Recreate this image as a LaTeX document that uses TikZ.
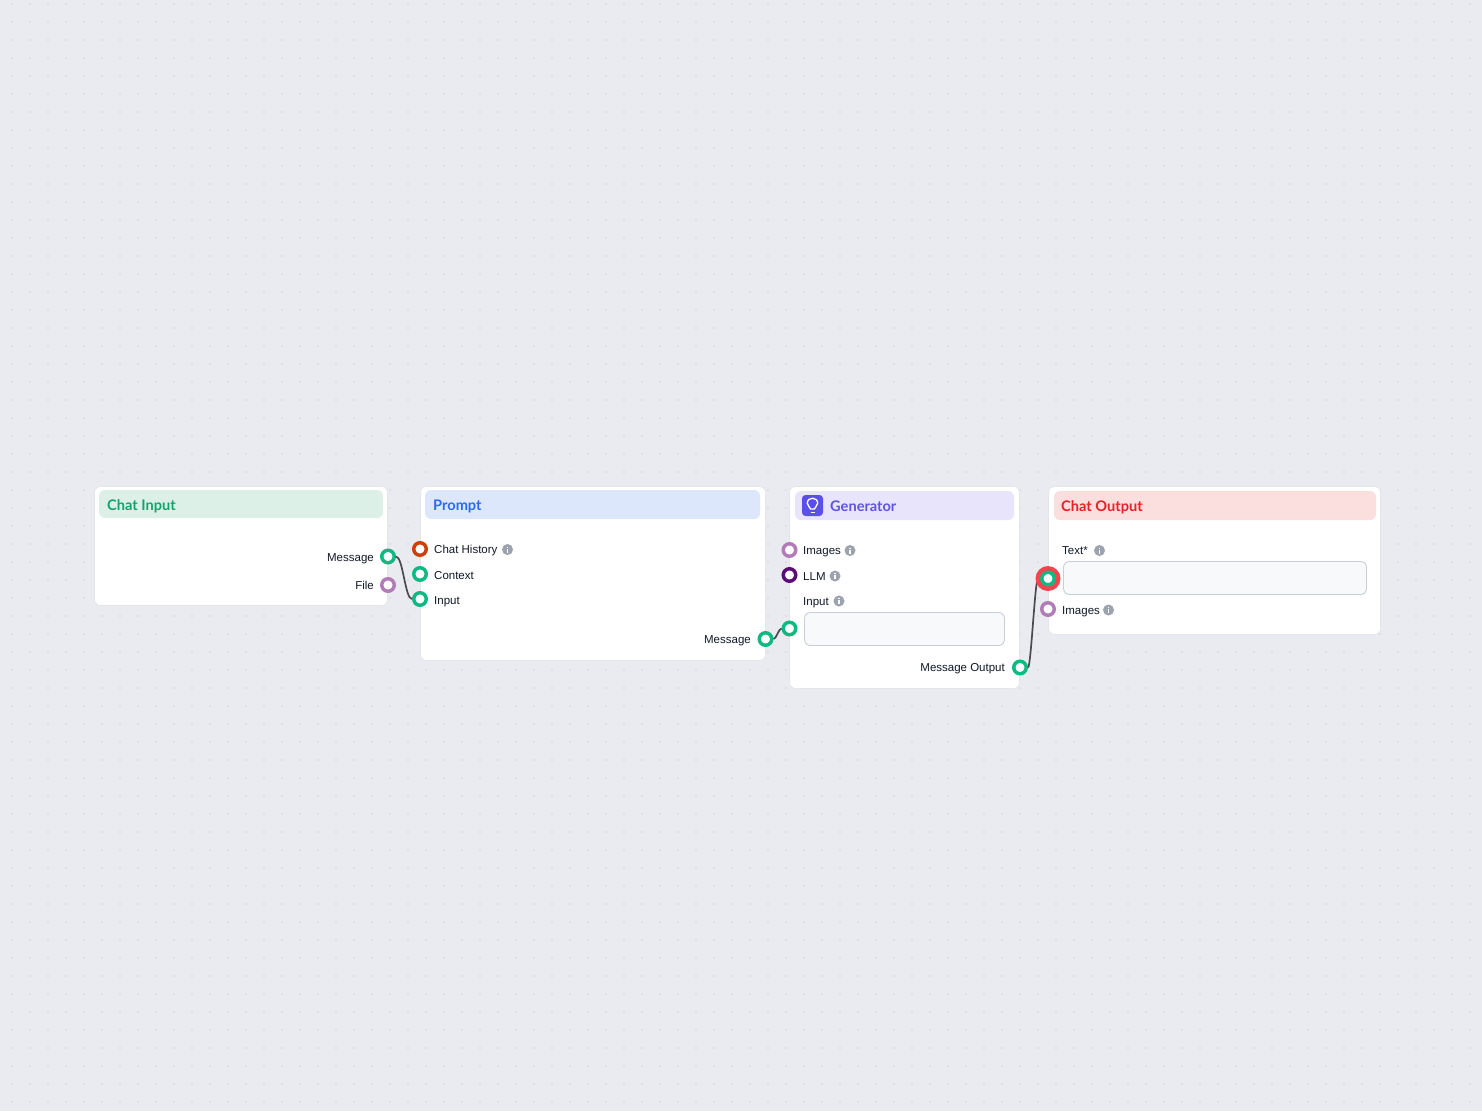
\documentclass[tikz,border=0pt]{standalone}
\usepackage{fontspec}
\setmainfont{Liberation Sans}
\newfontfamily\titlefont{Lato}
\usepackage{tikz}
\usetikzlibrary{positioning}
\definecolor{canvas}{HTML}{EAEBF0}
\definecolor{griddot}{HTML}{DDDFE3}
\definecolor{cardline}{HTML}{E3E5EA}
\definecolor{inkgray}{HTML}{111827}
\definecolor{wire}{HTML}{4B4B4F}
\definecolor{infogray}{HTML}{9CA3AF}
\definecolor{boxfill}{HTML}{F8F9FB}
\definecolor{boxline}{HTML}{C8CDD8}
\definecolor{msggreen}{HTML}{10B981}
\definecolor{imgpurple}{HTML}{B27CB8}
\definecolor{histred}{HTML}{CF3F0B}
\definecolor{llmpurple}{HTML}{5C0E78}
\definecolor{hitred}{HTML}{F8434F}
\tikzset{
  card/.style={draw=cardline,fill=white,rounded corners=6pt,line width=.7pt},
  header/.style={rounded corners=6pt},
  title/.style={anchor=west,inner sep=0pt,text height=11pt,text depth=0pt,font=\titlefont\bfseries\fontsize{14.6}{14.6}\selectfont},
  port/.style={circle,draw=#1,fill=white,line width=3.5pt,minimum size=12.5pt,inner sep=0pt},
  pinlabel/.style={anchor=west,text=inkgray,text height=8.6pt,text depth=0pt,font=\fontsize{11.5}{11.5}\selectfont,inner sep=0pt},
  outlabel/.style={pinlabel,anchor=east},
  infodot/.style={circle,fill=infogray,minimum size=11pt,inner sep=0pt},
  inputbox/.style={draw=boxline,fill=boxfill,rounded corners=6pt,line width=.9pt},
  connector/.style={draw=wire,line width=1.7pt}
}
\begin{document}
\begin{tikzpicture}[x=1pt,y=-1pt]
  \useasboundingbox (0,0) rectangle (1482,1111);
  \fill[canvas] (0,0) rectangle (1482,1111);
  % dotted grid
  \foreach \i in {0,...,81}
    \foreach \j in {0,...,61}
      \fill[griddot] ({11+18*\i},{3+18*\j}) rectangle ++(2,2);

  % cards
  \draw[card] (94.5,486.5) rectangle (387.5,605.5);
  \fill[header,fill={rgb,255:red,220;green,240;blue,231}] (99,490) rectangle (383,518);
  \node[title,text={rgb,255:red,16;green,165;blue,111}] (inputtitle) at (107,505) {Chat Input};

  \draw[card] (420.5,486.5) rectangle (765.5,660.5);
  \fill[header,fill={rgb,255:red,221;green,231;blue,252}] (425,490) rectangle (760,519);
  \node[title,text={rgb,255:red,43;green,107;blue,240}] (prompttitle) at (433,505) {Prompt};

  \draw[card] (789.5,486.5) rectangle (1019.5,688.5);
  \fill[header,fill={rgb,255:red,231;green,228;blue,251}] (795,491) rectangle (1014,520);
  \fill[rounded corners=3.5pt,fill={rgb,255:red,91;green,79;blue,233}] (802,495) rectangle (823,516);
  % bulb
  \draw[white,line width=1.3pt] (810.6,509) .. controls (810.4,506.5) and (807.3,506.5) .. (807.3,503.2) .. controls (807.3,496.6) and (817.7,496.6) .. (817.7,503.2) .. controls (817.7,506.5) and (814.6,506.5) .. (814.4,509) -- cycle;
  \draw[white,line width=1.3pt] (810.5,512.3) -- (814.5,512.3);
  \node[title,text={rgb,255:red,95;green,84;blue,224}] (gentitle) at (830,506) {Generator};
  \draw[inputbox] (804.5,612.5) rectangle (1004.5,645.5);

  \draw[card] (1048.5,486.5) rectangle (1380.5,634.5);
  \fill[header,fill={rgb,255:red,251;green,222;blue,222}] (1054,491) rectangle (1376,520);
  \node[title,text={rgb,255:red,234;green,32;blue,39}] (outtitle) at (1061,506) {Chat Output};
  \draw[inputbox] (1063.5,561.5) rectangle (1366.5,594.5);

  % ports
  \node[port=msggreen] (inmsg) at (388,556.5) {};
  \node[port=imgpurple] (infile) at (388,585) {};
  \node[port=histred] (prhist) at (420,549) {};
  \node[port=msggreen] (prctx) at (420,574) {};
  \node[port=msggreen] (prinput) at (420,599) {};
  \node[port=msggreen] (prmsg) at (765.5,639) {};
  \node[port=imgpurple] (genimg) at (789.5,550) {};
  \node[port=llmpurple] (genllm) at (789.5,575) {};
  \node[port=msggreen] (geninput) at (789.5,628.5) {};
  \node[port=msggreen] (genout) at (1020,667.5) {};
  % the wire ends under the red ring
  \coordinate (hitin) at (1038,578.5);
  \draw[connector] (genout.east) .. controls +(3,0) and +(-3,0) .. (hitin);
  \node[circle,fill=hitred,minimum size=25pt,inner sep=0pt] (hit) at (1048,578.5) {};
  \node[port=msggreen] (outtext) at (1048,578.5) {};
  \node[port=imgpurple] (outimg) at (1048,609) {};

  % port labels
  \node[outlabel] (lmsg) at (374,557) {Message};
  \node[outlabel] (lfile) at (374,585) {File};
  \node[pinlabel] (lhist) at (434,549) {Chat History};
  \node[pinlabel] (lctx) at (434,575) {Context};
  \node[pinlabel] (lin) at (434,600) {Input};
  \node[outlabel] (lpmsg) at (751,639) {Message};
  \node[pinlabel] (limg) at (803,550) {Images};
  \node[pinlabel] (lllm) at (803,576) {LLM};
  \node[pinlabel] (lginp) at (803,601) {Input};
  \node[outlabel] (lgout) at (1005,667) {Message Output};
  \node[pinlabel] (ltext) at (1062,550) {Text*};
  \node[pinlabel] (loimg) at (1062,610) {Images};

  % info marks
  \foreach \name/\x/\y in {ihist/507.5/549.5,igimg/850/550.5,igllm/835/576,iginp/839/601,itext/1099.5/550.5,ioimg/1108.5/610} {
    \node[infodot] (\name) at (\x,\y) {};
    \fill[white] ([xshift=-.8pt,yshift=1.6pt]\name.center) rectangle ([xshift=.8pt,yshift=3pt]\name.center);
    \fill[white] ([xshift=-.8pt,yshift=-3pt]\name.center) rectangle ([xshift=.8pt,yshift=.7pt]\name.center);
  }

  % connectors
  \draw[connector] (inmsg.east) .. controls +(7,0) and +(-7,0) .. (prinput.west);
  \draw[connector] (prmsg.east) .. controls +(3,0) and +(-3,0) .. (geninput.west);
\end{tikzpicture}
\end{document}
